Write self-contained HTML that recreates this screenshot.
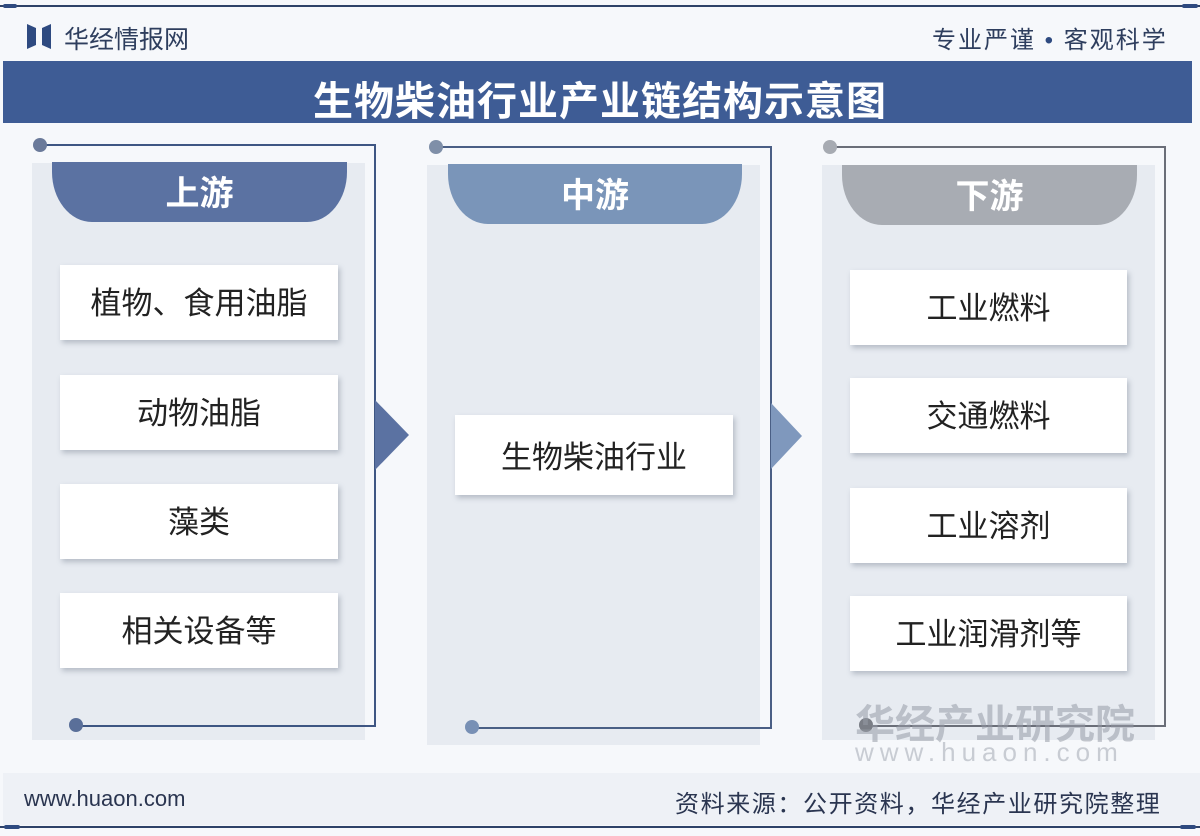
<!DOCTYPE html>
<html><head><meta charset="utf-8"><style>
*{margin:0;padding:0;box-sizing:border-box}
body{width:1200px;height:836px;background:#f6f8fb;position:relative;overflow:hidden;font-family:"Liberation Sans","Noto Sans CJK SC",sans-serif}
.a{position:absolute}
.pbg{position:absolute;background:#e7ebf1}
.tab{position:absolute;height:60px;border-radius:0 0 40px 40px/0 0 50px 50px;color:#fff;font-weight:bold;font-size:34px;text-align:center;line-height:64px}
.box{position:absolute;background:#fff;box-shadow:2px 3px 5px rgba(90,100,120,.35);font-size:31px;color:#222;text-align:center;line-height:78px;height:75px}
.ln{position:absolute;background:#3e5683}
.dot{position:absolute;width:14px;height:14px;border-radius:50%}
</style></head><body>
<div class="a" style="left:0;top:5px;width:1200px;height:2px;background:#2e4268"></div>
<div class="a" style="left:3px;top:4px;width:14px;height:4px;background:#2e4a80;border-radius:2px"></div>
<div class="a" style="left:1182px;top:4px;width:16px;height:4px;background:#2e4a80;border-radius:2px"></div>
<svg class="a" style="left:27px;top:24px" width="24" height="25"><polygon points="0,0 9,4 9,21 0,25" fill="#2e4a80"/><polygon points="24,0 15,4 15,21 24,25" fill="#2e4a80"/></svg>
<div class="a" style="left:64px;top:20px;font-size:25px;color:#2e3e5e;letter-spacing:0px">华经情报网</div>
<div class="a" style="left:932px;top:20px;font-size:24px;color:#2e3e5e;letter-spacing:2px">专业严谨 <span style="color:#2e4a80">•</span> 客观科学</div>
<div class="a" style="left:3px;top:61px;width:1189px;height:62px;background:#3e5c95"></div>
<div class="a" style="left:0;top:69px;width:1200px;text-align:center;font-size:40px;font-weight:bold;color:#fff;letter-spacing:1px">生物柴油行业产业链结构示意图</div>

<!-- left -->
<div class="pbg" style="left:32px;top:163px;width:333px;height:577px"></div>
<div class="ln" style="left:40px;top:144px;width:336px;height:2px"></div>
<div class="ln" style="left:374px;top:144px;width:2px;height:583px"></div>
<div class="ln" style="left:76px;top:725px;width:300px;height:2px"></div>
<div class="dot" style="left:33px;top:138px;background:#6a7a9a"></div>
<div class="dot" style="left:69px;top:718px;background:#5a6f99"></div>
<div class="tab" style="left:52px;top:162px;width:295px;background:#5b72a2">上游</div>
<div class="box" style="left:60px;top:265px;width:278px">植物、食用油脂</div>
<div class="box" style="left:60px;top:375px;width:278px">动物油脂</div>
<div class="box" style="left:60px;top:484px;width:278px">藻类</div>
<div class="box" style="left:60px;top:593px;width:278px">相关设备等</div>
<svg class="a" style="left:375px;top:400px" width="35" height="70"><polygon points="0,0 34,35 0,70" fill="#5b72a2"/></svg>

<!-- middle -->
<div class="pbg" style="left:427px;top:165px;width:333px;height:580px"></div>
<div class="ln" style="left:436px;top:146px;width:336px;height:2px;background:#4a5f85"></div>
<div class="ln" style="left:770px;top:146px;width:2px;height:583px;background:#4a5f85"></div>
<div class="ln" style="left:472px;top:727px;width:300px;height:2px;background:#4a5f85"></div>
<div class="dot" style="left:429px;top:140px;background:#7f8fa8"></div>
<div class="dot" style="left:465px;top:720px;background:#7890b5"></div>
<div class="tab" style="left:448px;top:164px;width:294px;background:#7a95b9">中游</div>
<div class="box" style="left:455px;top:415px;width:278px;height:80px;line-height:86px">生物柴油行业</div>
<svg class="a" style="left:771px;top:403px" width="32" height="66"><polygon points="0,0 31,33 0,66" fill="#7f98bd"/></svg>

<!-- right -->
<div class="pbg" style="left:822px;top:165px;width:333px;height:575px"></div>
<div class="ln" style="left:830px;top:146px;width:336px;height:2px;background:#6a6e78"></div>
<div class="ln" style="left:1164px;top:146px;width:2px;height:581px;background:#6a6e78"></div>
<div class="ln" style="left:866px;top:725px;width:300px;height:2px;background:#6a6e78"></div>
<div class="dot" style="left:823px;top:140px;background:#a7abb2"></div>
<div class="dot" style="left:859px;top:718px;background:#7a7e86"></div>
<div class="tab" style="left:842px;top:165px;width:295px;background:#a8acb3">下游</div>
<div class="box" style="left:850px;top:270px;width:277px">工业燃料</div>
<div class="box" style="left:850px;top:378px;width:277px">交通燃料</div>
<div class="box" style="left:850px;top:488px;width:277px">工业溶剂</div>
<div class="box" style="left:850px;top:596px;width:277px">工业润滑剂等</div>
<div class="a" style="left:855px;top:692px;font-size:40px;color:rgba(150,155,165,.55);font-weight:bold;letter-spacing:0px">华经产业研究院</div>
<div class="a" style="left:855px;top:737px;font-size:26px;color:rgba(170,175,185,.6);letter-spacing:6px">www.huaon.com</div>

<!-- footer -->
<div class="a" style="left:3px;top:773px;width:1197px;height:52px;background:#eef1f6"></div>
<div class="a" style="left:24px;top:786px;font-size:22px;color:#2a3550">www.huaon.com</div>
<div class="a" style="left:675px;top:784px;font-size:24px;color:#2a3550;letter-spacing:1.6px">资料来源：公开资料，华经产业研究院整理</div>
<div class="a" style="left:0;top:826px;width:1200px;height:2px;background:#2e4268"></div>
<div class="a" style="left:4px;top:825px;width:16px;height:4px;background:#2e4a80;border-radius:2px"></div>
<div class="a" style="left:1180px;top:825px;width:16px;height:4px;background:#2e4a80;border-radius:2px"></div>
</body></html>
